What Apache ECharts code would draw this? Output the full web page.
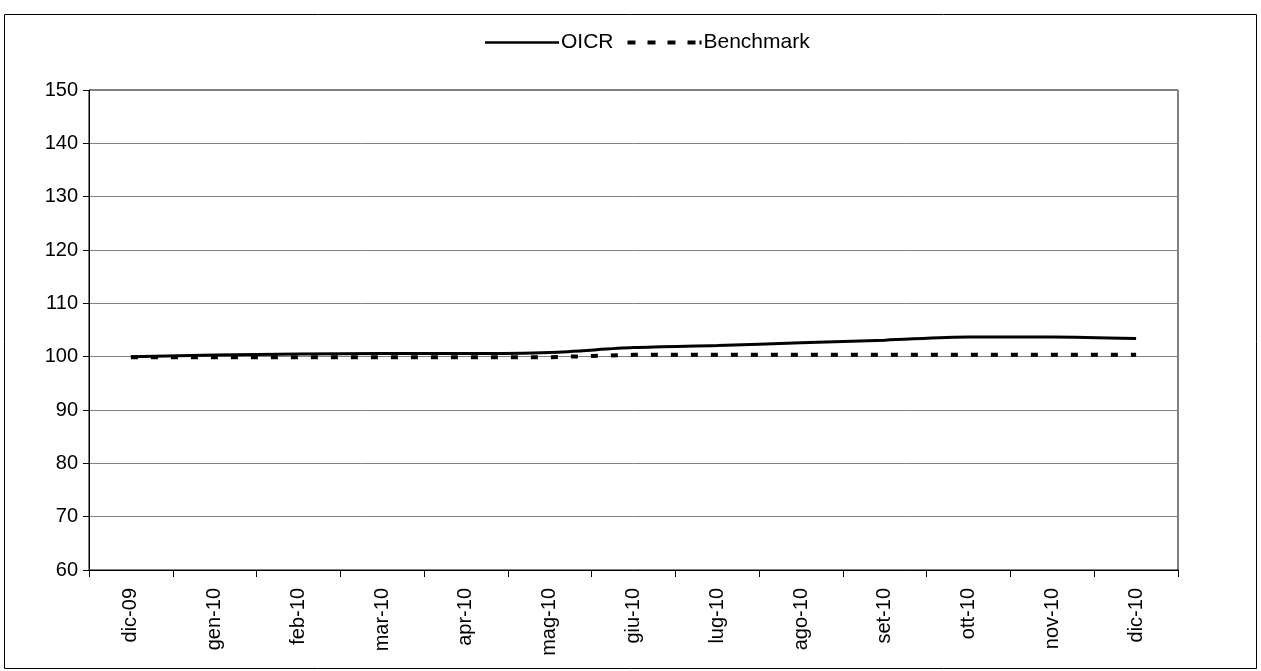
<!DOCTYPE html>
<html>
<head>
<meta charset="utf-8">
<script src="https://cdn.jsdelivr.net/npm/echarts@6/dist/echarts.min.js"></script>
<style>
html, body { margin: 0; padding: 0; background: #fff; }
#main { width: 1261px; height: 671px; }
</style>
</head>
<body>
<div id="main"></div>
<script>
const categories = ['dic-09', 'gen-10', 'feb-10', 'mar-10', 'apr-10', 'mag-10', 'giu-10',
  'lug-10', 'ago-10', 'set-10', 'ott-10', 'nov-10', 'dic-10'];
const oicr = [100, 100.3, 100.5, 100.6, 100.6, 100.8, 101.7, 102.1, 102.6, 103.1, 103.7, 103.7, 103.4];
const benchmark = [99.9, 99.9, 99.9, 99.9, 99.9, 99.9, 100.35, 100.35, 100.35, 100.35, 100.35, 100.35, 100.35];

var myChart = echarts.init(document.getElementById('main'));

var option = {
  animation: false,
  textStyle: { fontFamily: 'Liberation Sans, Arial, sans-serif', color: '#000' },
  graphic: [{
    type: 'rect',
    shape: { x: 4.5, y: 14.5, width: 1252, height: 654 },
    style: { fill: 'none', stroke: '#000', lineWidth: 1 }
  }],
  legend: {
    top: 27,
    left: 480,
    itemWidth: 74,
    itemHeight: 14,
    itemGap: 14,
    textStyle: { fontSize: 21, color: '#000', padding: [0, 0, 0, -3] },
    data: [
      { name: 'OICR', icon: 'path://M0,6 L74,6 L74,8.5 L0,8.5 Z', itemStyle: { color: '#000' } },
      { name: 'Benchmark', icon: 'path://M0,5 L8,5 L8,9 L0,9 Z M20,5 L28,5 L28,9 L20,9 Z M40,5 L48,5 L48,9 L40,9 Z M60,5 L68,5 L68,9 L60,9 Z M72,5 L74,5 L74,9 L72,9 Z', itemStyle: { color: '#000' } }
    ]
  },
  grid: { left: 89, right: 83, top: 90, bottom: 101, show: true, borderColor: '#000', borderWidth: 1 },
  xAxis: {
    type: 'category',
    data: categories,
    boundaryGap: true,
    axisLine: { lineStyle: { color: '#000', width: 1 } },
    axisTick: { show: true, length: 7, lineStyle: { color: '#000' } },
    axisLabel: { rotate: 90, fontSize: 20, color: '#000', margin: 18 },
    splitLine: { show: false }
  },
  yAxis: {
    type: 'value',
    min: 60,
    max: 150,
    interval: 10,
    axisLine: { show: true, lineStyle: { color: '#000', width: 1 } },
    axisTick: { show: true, length: 6, lineStyle: { color: '#000' } },
    axisLabel: { fontSize: 20, color: '#000', margin: 11 },
    splitLine: { show: true, lineStyle: { color: '#808080', width: 1 } }
  },
  series: [
    {
      name: 'OICR',
      type: 'line',
      data: oicr,
      symbol: 'none',
      smooth: 0.3,
      lineStyle: { color: '#000', width: 3, type: 'solid' },
      itemStyle: { color: '#000' }
    },
    {
      name: 'Benchmark',
      type: 'line',
      data: benchmark,
      symbol: 'none',
      lineStyle: { color: '#000', width: 4, type: [7, 13] },
      itemStyle: { color: '#000' }
    }
  ]
};

myChart.setOption(option);
window.addEventListener('resize', () => {
  myChart.resize()
})
</script>
</body>
</html>
